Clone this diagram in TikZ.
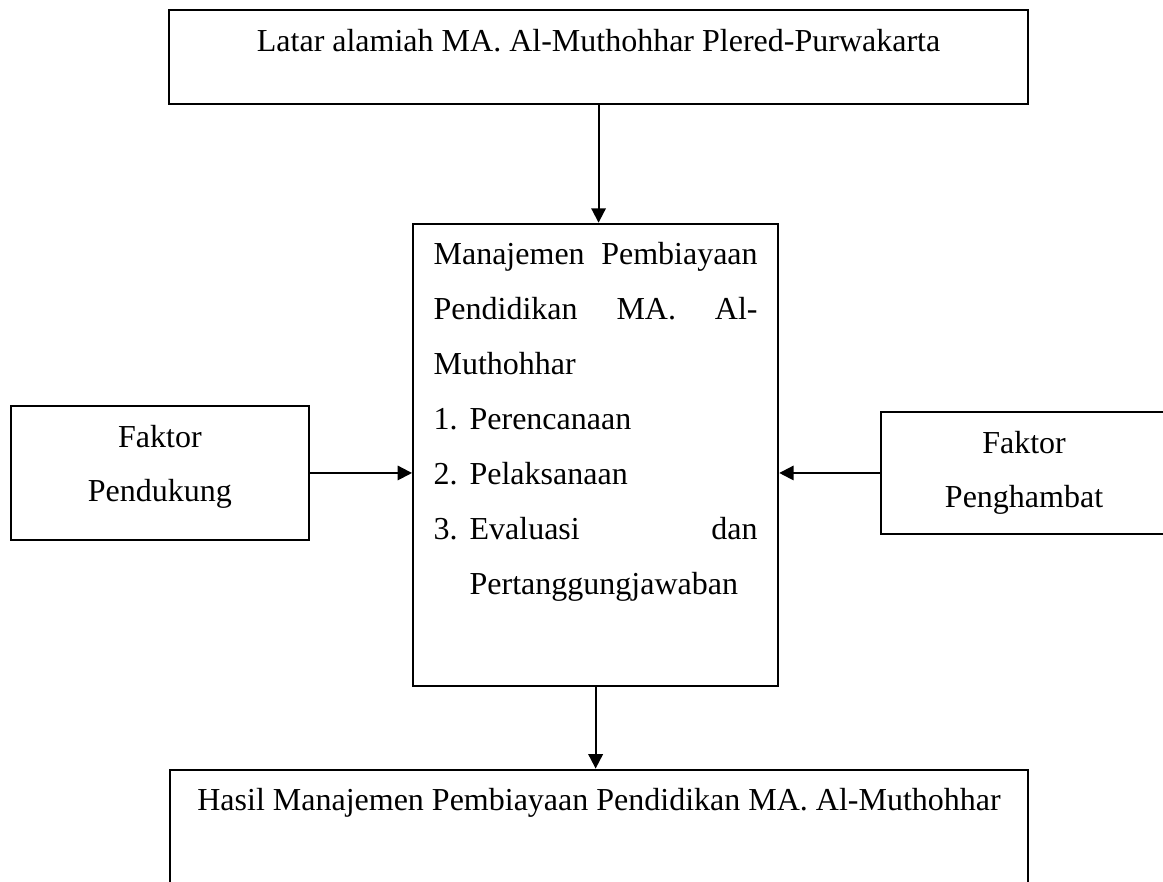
\documentclass[tikz,border=0pt]{standalone}
\usepackage{fontspec}
\setmainfont{Liberation Serif}
\usetikzlibrary{arrows.meta,positioning}

\begin{document}
\begin{tikzpicture}[
box/.style={rectangle, draw, line width=0.8pt, inner sep=0pt, align=center, font=\fontsize{12}{20.6}\selectfont, text height=15.4pt},
factor/.style={box, text height=36pt},
arrow/.style={-{Triangle[length=5.4pt,width=5.4pt]}, line width=0.75pt}
]

\path[use as bounding box, clip] (-63pt,3.4pt) rectangle (373.1pt,-327pt);

% Setting
\node[box, anchor=north west, minimum width=322.1pt, text depth=19.9pt] (context) at (0,0) {Latar alamiah MA. Al-Muthohhar Plered-Purwakarta};

% Management
\node[box, below=44pt of context, xshift=-1.1pt, text width=121.5pt, inner xsep=7.7pt, align=left, text depth=158pt] (manage) {Manajemen\hfill Pembiayaan\\
Pendidikan\hfill MA.\hfill Al-\\
Muthohhar\\
\makebox[13.5pt][l]{1.}Perencanaan\\
\makebox[13.5pt][l]{2.}Pelaksanaan\\
\makebox[13.5pt][l]{3.}Evaluasi\hfill dan\\
\hspace*{13.5pt}Pertanggungjawaban};

% Factors
\node[factor, left=38.25pt of manage, yshift=-6.75pt, minimum width=111.75pt, text depth=14.25pt] (support) {Faktor\\Pendukung};
\node[factor, right=37.6pt of manage, yshift=-6.75pt, minimum width=107.6pt, text depth=9.75pt] (hinder) {Faktor\\Penghambat};

% Result
\node[box, below=30.5pt of manage, xshift=1.3pt, minimum width=321.75pt, text depth=60pt] (result) {Hasil Manajemen Pembiayaan Pendidikan MA. Al-Muthohhar};

% Connections
\draw[arrow] (context) -- (context |- manage.north);
\draw[arrow] (support) -- (support -| manage.west);
\draw[arrow] (hinder) -- (hinder -| manage.east);
\draw[arrow] (manage.south) -- (manage.south |- result.north);

\end{tikzpicture}
\end{document}
